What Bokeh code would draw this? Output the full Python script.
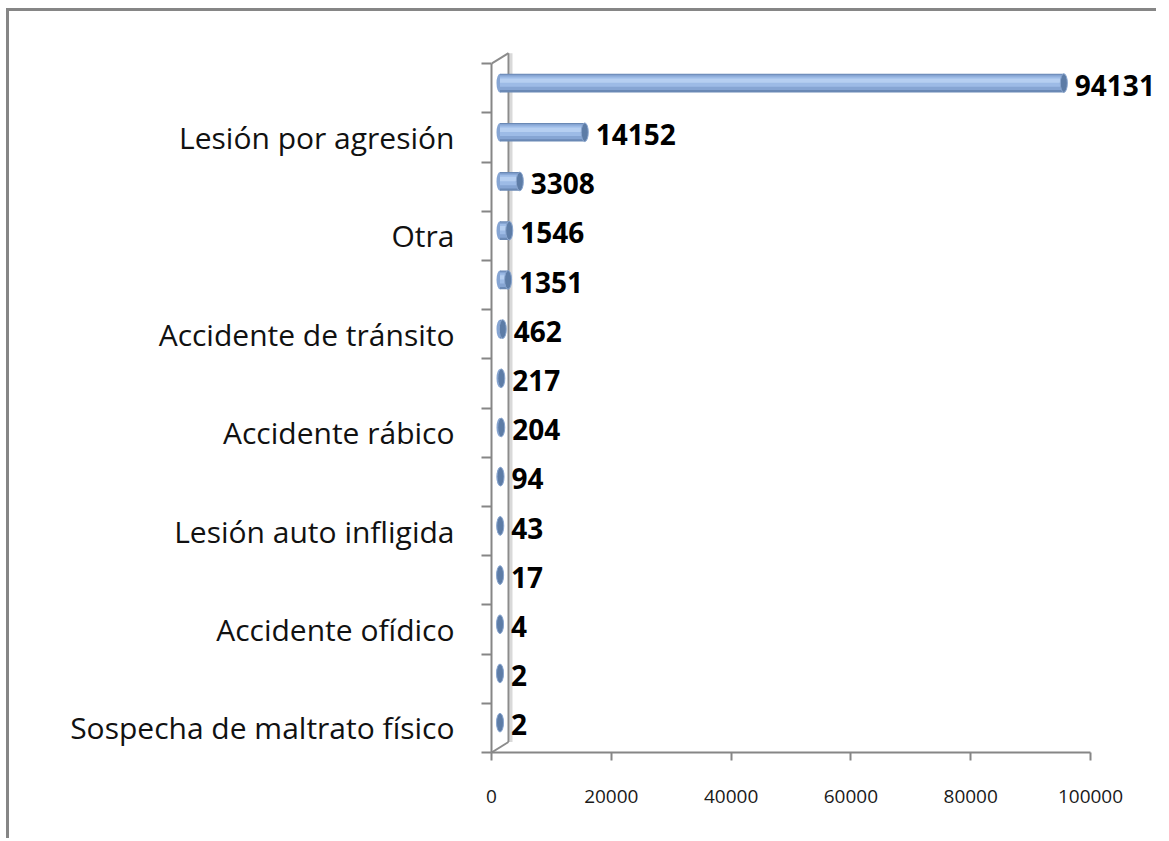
from bokeh.plotting import figure
from bokeh.models import ColumnDataSource, Range1d, FixedTicker, BasicTickFormatter
from bokeh.core.properties import value
from bokeh.embed import file_html
from bokeh.resources import INLINE

# ---- data (top to bottom as in the chart) ----
labels = ["", "Lesión por agresión", "", "Otra", "", "Accidente de tránsito", "",
          "Accidente rábico", "", "Lesión auto infligida", "", "Accidente ofídico", "",
          "Sospecha de maltrato físico"]
values = [94131, 14152, 3308, 1546, 1351, 462, 217, 204, 94, 43, 17, 4, 2, 2]
x_ticks = [0, 20000, 40000, 60000, 80000, 100000]

n = len(values)
pos = [n - 1 - i for i in range(n)]          # top category highest

# ---- geometry / style ----
AXIS_MAX = 100000
AXIS_PX = 599            # pixels for 0..100000
FRAME_W = 665
FRAME_H = 704
CAT_PX = 49.2
px_x = AXIS_MAX / AXIS_PX            # data units per px (x)
px_y = 1.0 / CAT_PX                  # data units per px (y)
DEPTH_X, DEPTH_Y = 17, 10.5          # 3D depth in px
dx = DEPTH_X / 2 * px_x
dy = DEPTH_Y / 2 * px_y
x_end = AXIS_MAX * FRAME_W / AXIS_PX
y_start = -0.5
y_end = y_start + FRAME_H / CAT_PX

src = ColumnDataSource(dict(
    y=pos,
    yb=[p_ + dy for p_ in pos],
    left=[dx] * n,
    right=[v + dx for v in values],
    val=values,
    txt=[str(v) for v in values],
))

p = figure(width=1150, height=830, output_backend="svg", toolbar_location=None,
           x_range=Range1d(0, x_end), y_range=Range1d(y_start, y_end),
           min_border_left=482, min_border_top=37, min_border_bottom=89,
           min_border_right=3)
p.styles = {"border-top": "3px solid #868686", "border-left": "3px solid #868686",
            "margin-left": "6px", "margin-top": "8px"}
p.grid.visible = False
p.outline_line_color = None
p.background_fill_color = "white"
p.border_fill_color = "white"

# ---- 3D walls (decorative) ----
wall_x = DEPTH_X * px_x
wall_top = 13.5 + DEPTH_Y * px_y
wall_bot = -0.5 + DEPTH_Y * px_y
p.segment(x0=[wall_x + 2.5 * px_x], y0=[wall_top], x1=[wall_x + 2.5 * px_x], y1=[wall_bot],
          line_color="#d9d9d9", line_width=3)
p.segment(x0=[wall_x], y0=[wall_top], x1=[wall_x], y1=[wall_bot],
          line_color="#8c8c8c", line_width=2)
p.segment(x0=[0, 0], y0=[13.5, -0.5], x1=[wall_x, wall_x], y1=[wall_top, wall_bot],
          line_color="#8c8c8c", line_width=2)

# ---- cylinder bars ----
H = 0.38
layers = [(H, 0.0, "#6a89b5"), (0.31, 0.012, "#86a5d3"), (0.21, 0.03, "#9dbbe6"),
          (0.09, 0.05, "#b6cff1")]
p.ellipse(x="left", y="yb", width=7, width_units="screen", height=H, source=src,
          fill_color="#86a5d3", line_color=None)
for h, off, c in layers:
    s2 = ColumnDataSource(dict(y=[v + off for v in src.data["yb"]],
                               left=src.data["left"], right=src.data["right"]))
    p.hbar(y="y", left="left", right="right", height=h, source=s2,
           fill_color=c, line_color=None)
p.ellipse(x="right", y="yb", width=7, width_units="screen", height=H, source=src,
          fill_color="#5d7ca6", line_color="#8aa6cf", line_width=1)

# ---- value labels ----
p.text(x="right", y="y", text="txt", source=src, x_offset=11, y_offset=-3,
       text_font=value("Open Sans"), text_font_style="bold", text_font_size="28px",
       text_color="black", text_baseline="middle", text_align="left")

# ---- axes ----
xa = p.xaxis[0]
xa.ticker = FixedTicker(ticks=x_ticks)
xa.formatter = BasicTickFormatter(use_scientific=False)
xa.bounds = (0, AXIS_MAX)
xa.axis_line_color = "#868686"
xa.axis_line_width = 2
xa.major_tick_line_color = "#868686"
xa.major_tick_line_width = 2
xa.major_tick_out = 8
xa.major_tick_in = 0
xa.minor_tick_line_color = None
xa.major_label_standoff = 29
xa.major_label_text_font = "Open Sans"
xa.major_label_text_font_size = "19px"
xa.major_label_text_color = "#1a1a1a"

ya = p.yaxis[0]
ya.ticker = FixedTicker(ticks=pos, minor_ticks=[i - 0.5 for i in range(n + 1)])
ya.bounds = (-0.5, 13.5)
ya.major_label_overrides = {pos[i]: labels[i] for i in range(n)}
ya.axis_line_color = "#868686"
ya.axis_line_width = 2
ya.major_tick_line_color = None
ya.minor_tick_line_color = "#868686"
ya.minor_tick_line_width = 2
ya.minor_tick_out = 10
ya.minor_tick_in = 0
ya.major_tick_out = 0
ya.major_tick_in = 0
ya.major_label_standoff = 27
ya.major_label_text_font = "Open Sans"
ya.major_label_text_font_size = "30px"
ya.major_label_text_color = "#111111"

open("out.html", "w").write(file_html(p, INLINE))
